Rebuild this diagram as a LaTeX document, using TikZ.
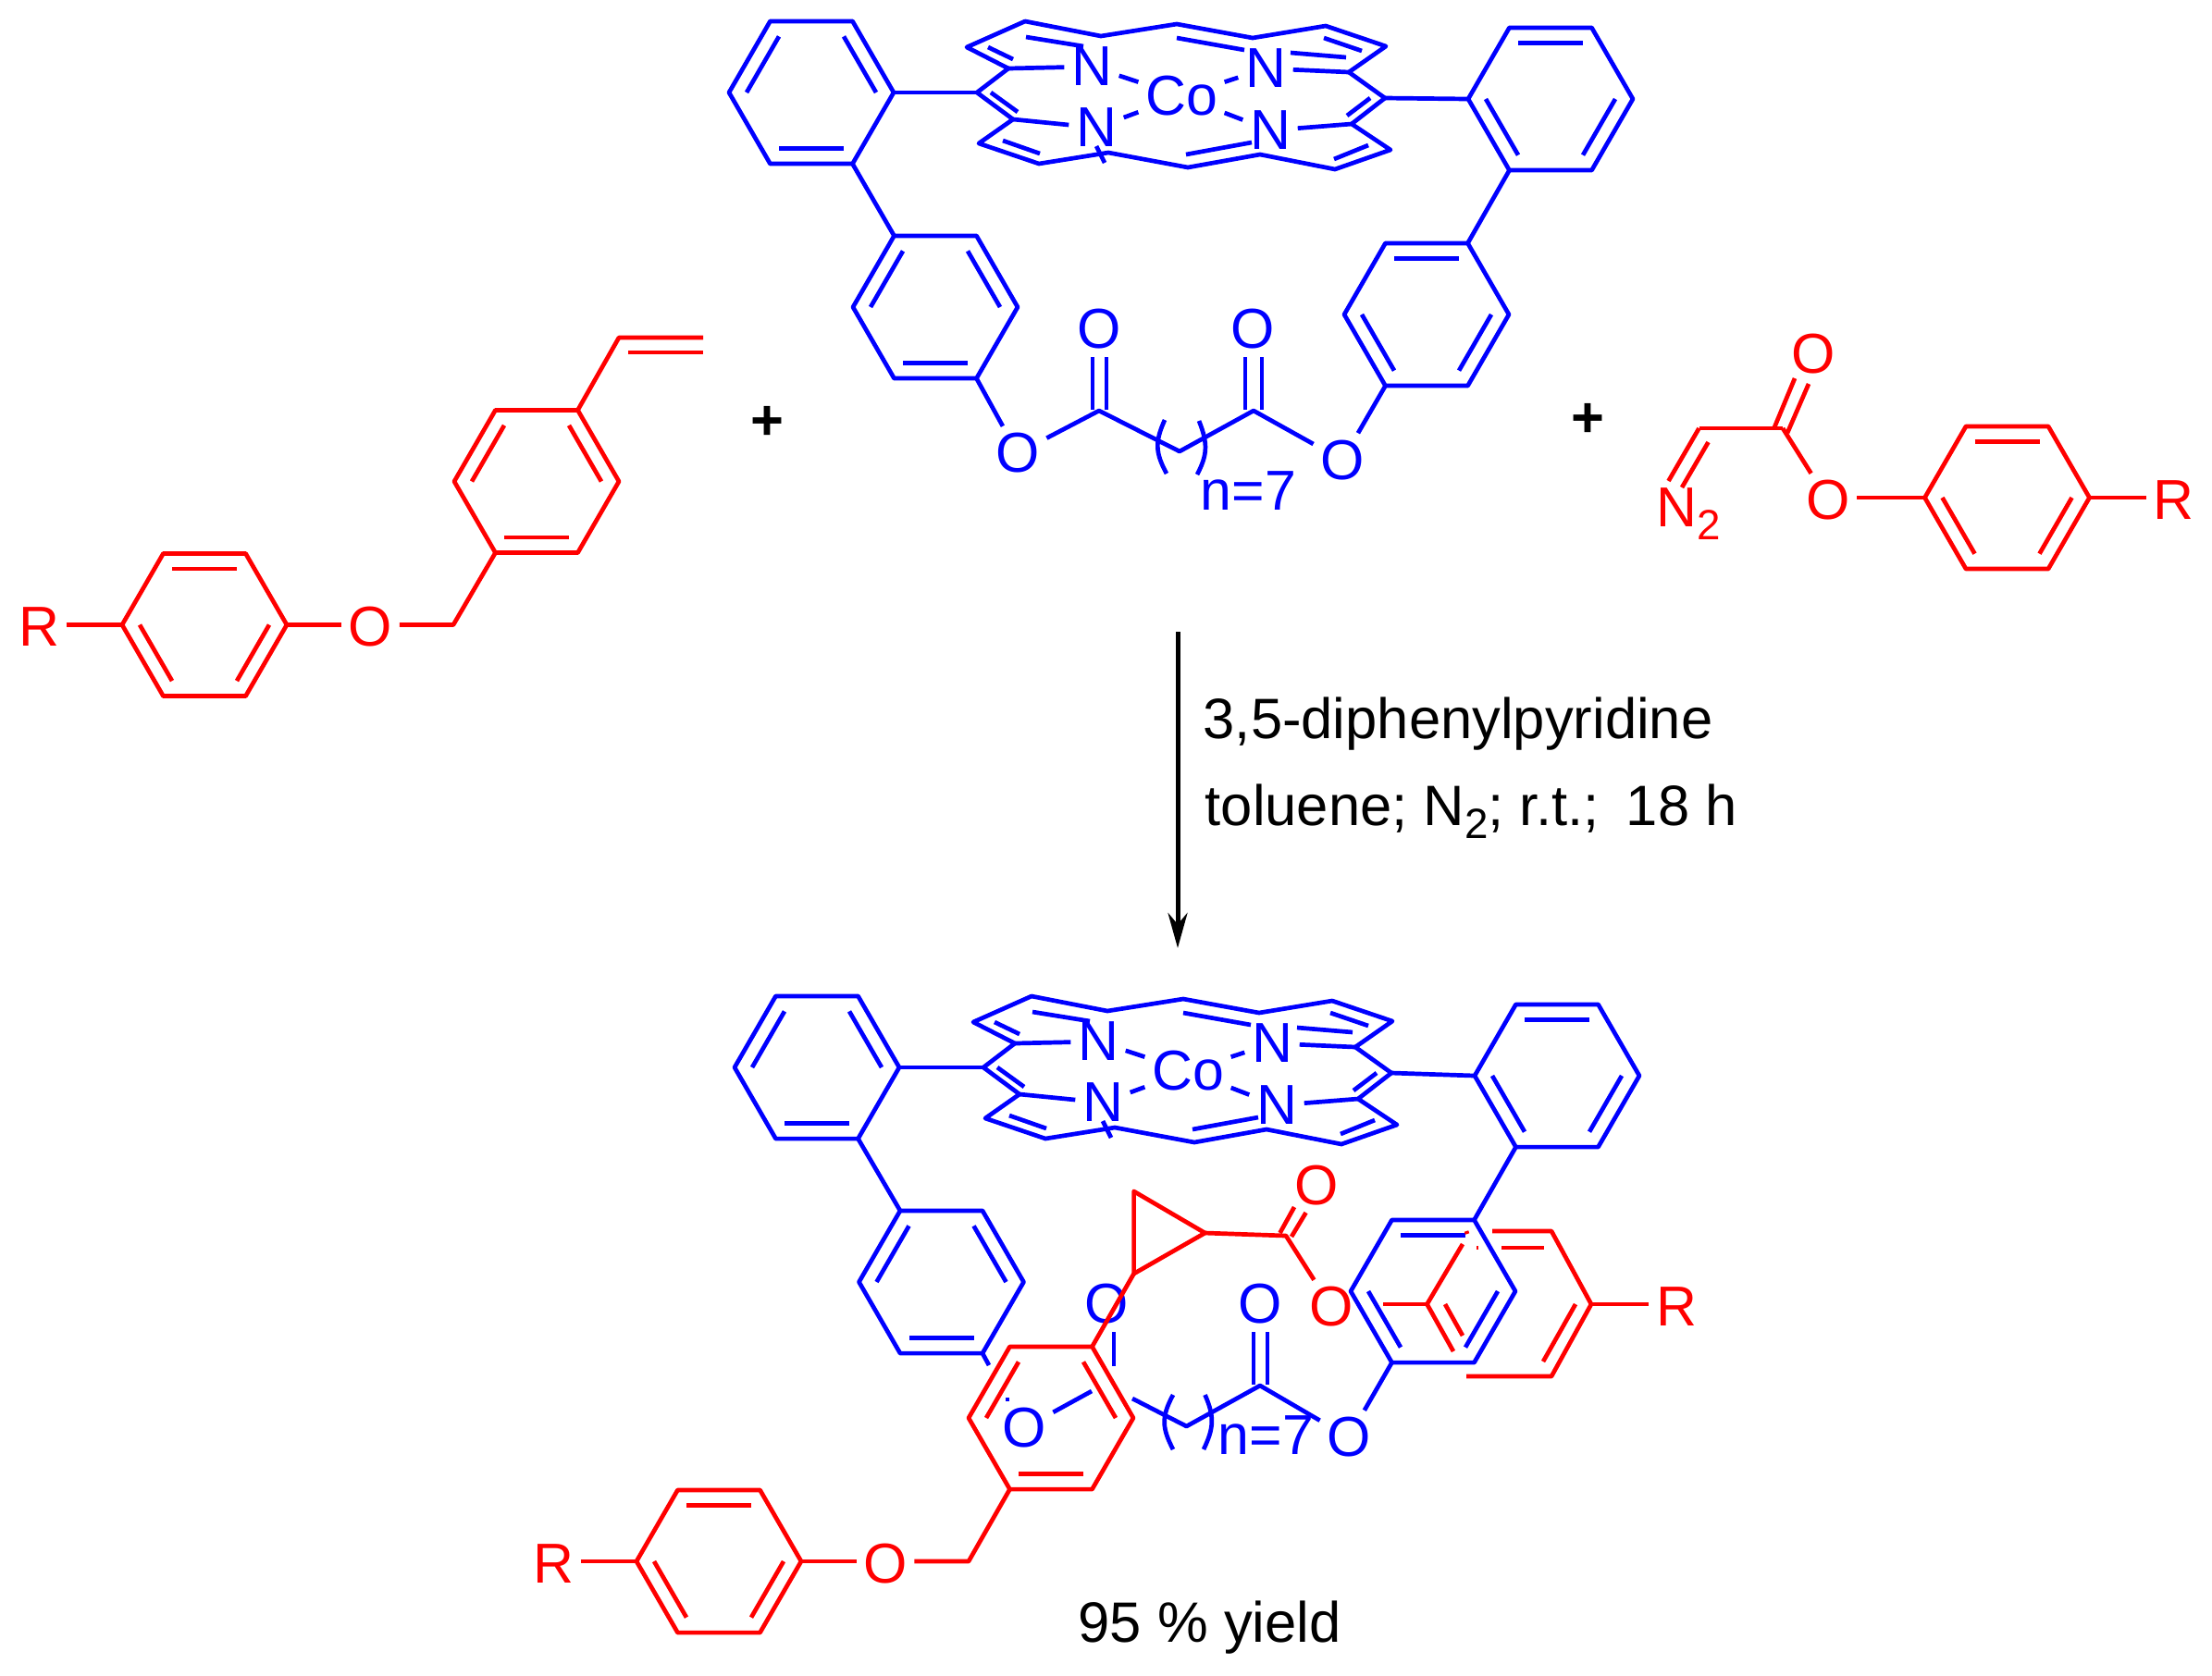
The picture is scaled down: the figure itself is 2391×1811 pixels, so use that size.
\documentclass[tikz,border=0pt]{standalone}
\usepackage{fontspec}
\setmainfont{Liberation Sans}
\usetikzlibrary{arrows.meta}
\newcommand{\subtwo}{\raisebox{-4pt}{\fontsize{13}{13}\selectfont 2}}
\newcommand{\benzene}[4]{%
  \begin{scope}[shift={(#2,#3)}]
    \foreach \ang in {0,60,...,300} {\coordinate (#1-\ang) at (\ang:89);}
    \draw[bond] (#1-0) -- (#1-60) -- (#1-120) -- (#1-180) -- (#1-240) -- (#1-300) -- cycle;
    \foreach \ang in {#4} {\draw[bond] (\ang:70) -- (\ang+60:70);}
  \end{scope}}
\newcommand{\porphyrin}{%
  \coordinate (mesoL) at (1056,100);
  \coordinate (mesoR) at (1497,106);
  \coordinate (ca1) at (1090,74);
  \coordinate (ca2) at (1458,78);
  \coordinate (ca3) at (1095,129);
  \coordinate (ca4) at (1461,134);
  \draw[bond] (mesoL) -- (ca1) -- (1045,51) -- (1108,23) -- (1190,39) -- (1272,26) -- (1354,41) -- (1433,28) -- (1498,50) -- (ca2) -- (mesoR) -- (ca4) -- (1503,162) -- (1443,183) -- (1362,167) -- (1284,181) -- (1198,165) -- (1123,177) -- (1058,155) -- (ca3) -- cycle;
  \draw[bond] (1068,51) -- (1095,64);
  \draw[bond] (1109,40) -- (1171,50);
  \draw[bond] (1272,41) -- (1345,54);
  \draw[bond] (1431,41) -- (1472,55);
  \draw[bond] (1395,57) -- (1455,62);
  \draw[bond] (1071,100) -- (1100,121);
  \draw[bond] (1084,152) -- (1124,166);
  \draw[bond] (1282,167) -- (1353,154);
  \draw[bond] (1456,125) -- (1481,106);
  \draw[bond] (1442,172) -- (1479,157);
  \draw[bond] (1185,158) -- (1194,176);
  \node[atom] (N1) at (1180,72) {N};
  \node[atom] (N2) at (1368,74) {N};
  \node[atom] (N3) at (1185,138) {N};
  \node[atom] (N4) at (1373,141) {N};
  \node[atom] (Co) at (1277,104) {Co};
  \draw[bond] (ca1) -- (N1);
  \draw[bond] (ca2) -- (N2);
  \draw[bond] (ca3) -- (N3);
  \draw[bond] (ca4) -- (N4);
  \draw[bond] (N1) -- (Co);
  \draw[bond] (N2) -- (Co);
  \draw[bond] (N3) -- (Co);
  \draw[bond] (N4) -- (Co);}
\begin{document}
\begin{tikzpicture}[
    x=0.01cm, y=-0.01cm,
    bond/.style={line width=0.047cm, line join=round},
    atom/.style={inner sep=2pt, font=\fontsize{17.3}{20}\selectfont},
    reagent/.style={anchor=base west, inner sep=0pt, font=\fontsize{17.5}{20}\selectfont},
    plus/.style={inner sep=0pt, font=\fontsize{17.5}{20}\selectfont\bfseries}
]
\useasboundingbox (0,0) rectangle (2391,1811);

\begin{scope}[red]
\benzene{sa}{221}{675.5}{240,120,0}
\benzene{sb}{580}{520.5}{180,300,60}
\node[atom] (sR) at (42,678) {R};
\node[atom] (sO) at (400.5,678) {O};
\coordinate (sCH) at (490,675.5);
\coordinate (sVi) at (669,365);
\draw[bond] (sR.east |- sa-180) -- (sa-180);
\draw[bond] (sa-0) -- (sO.west |- sa-0);
\draw[bond] (sO.east |- sCH) -- (sCH) -- (sb-120);
\draw[bond] (sb-300) -- (sVi) -- (760,365);
\draw[bond] (679,381) -- (760,381);

\benzene{da}{2169.5}{538}{240,120,0}
\coordinate (dC) at (1836.5,463);
\coordinate (dE) at (1927,463);
\node[atom] (dO) at (1960,383) {O};
\node[atom] (dOe) at (1976,541) {O};
\node[atom] (dR) at (2349.5,541) {R};
\node[atom, anchor=base west, inner sep=0pt] (dN) at (1790,569) {N\subtwo};
\draw[bond] (dC) -- (dE);
\draw[bond] (dC) -- (1803.5,520);
\draw[bond] (1846.5,478) -- (1818,527);
\draw[bond] (1918,462) -- (1940,409);
\draw[bond] (1932,468) -- (1955,415);
\draw[bond] (dE) -- (dOe);
\draw[bond] (dOe.east |- da-180) -- (da-180);
\draw[bond] (da-0) -- (dR.west |- da-0);
\end{scope}

\begin{scope}[blue]
\porphyrin
\benzene{tl}{877}{100}{180,300,60}
\benzene{ll}{1011}{332}{180,300,60}
\benzene{tr}{1676}{107}{240,0,120}
\benzene{lr}{1542}{340}{240,0,120}
\draw[bond] (tl-0) -- (mesoL);
\draw[bond] (mesoR) -- (tr-180);
\draw[bond] (tl-60) -- (ll-240);
\draw[bond] (tr-120) -- (lr-300);
\coordinate (cA) at (1188,444);
\coordinate (cB) at (1355,444);
\coordinate (cM) at (1275,488);
\node[atom] (oA) at (1100,490) {O};
\node[atom] (oB) at (1451,497.5) {O};
\node[atom] (oC) at (1188,356) {O};
\node[atom] (oD) at (1354,356) {O};
\node[atom] (nA) at (1349.5,531) {n=7};
\draw[bond] (ll-60) -- (oA);
\draw[bond] (lr-120) -- (oB);
\draw[bond] (oA) -- (cA) -- (cM) -- (cB) -- (oB);
\draw[bond] (1181,386) -- (1181,443);
\draw[bond] (1196,386) -- (1196,443);
\draw[bond] (1346,386) -- (1346,443);
\draw[bond] (1364,386) -- (1364,443);
\draw[bond] (1259,454) .. controls (1248,478) and (1249,490) .. (1261,512);
\draw[bond] (1296,455) .. controls (1306,480) and (1305,492) .. (1294,513);
\end{scope}

\node[plus] (plusA) at (829,457) {+};
\node[plus] (plusB) at (1716,454) {+};

\coordinate (arrowtop) at (1273,683);
\coordinate (arrowtip) at (1273,1025);
\draw[-{Stealth[length=0.38cm,width=0.21cm]}, line width=0.05cm] (arrowtop) -- (arrowtip);
\node[reagent] (cond1) at (1300,798) {3,5-diphenylpyridine};
\node[reagent] (cond2) at (1302,892) {toluene; N\subtwo; r.t.;\hspace{0.48em}18 h};

\begin{scope}[blue]
\begin{scope}[shift={(7,1054)}, name prefix=b-]
\porphyrin
\end{scope}
\benzene{btl}{883}{1154}{180,300,60}
\benzene{bll}{1017.5}{1386}{180,300,60}
\benzene{btr}{1683}{1163}{240,0,120}
\benzene{blr}{1549}{1396}{240,0,120}
\draw[bond] (btl-0) -- (b-mesoL);
\draw[bond] (b-mesoR) -- (btr-180);
\draw[bond] (btl-60) -- (bll-240);
\draw[bond] (btr-120) -- (blr-300);
\coordinate (bcB) at (1362,1498);
\coordinate (bcM) at (1282.5,1542);
\node[atom] (boA) at (1107,1544) {O};
\node[atom] (boB) at (1458,1554) {O};
\node[atom] (boC) at (1196,1410) {O};
\node[atom] (boD) at (1362,1410) {O};
\node[atom] (bnA) at (1368.5,1552) {n=7};
\draw[bond] (bll-60) -- (1069,1476);
\draw[bond] (blr-120) -- (boB);
\draw[bond] (1180,1504) -- (boA);
\draw[bond] (1224,1512) -- (bcM) -- (bcB) -- (boB);
\draw[bond] (1204,1440) -- (1204,1477);
\draw[bond] (1355,1440) -- (1355,1497);
\draw[bond] (1370,1440) -- (1370,1497);
\draw[bond] (1089,1511) -- (1089,1515);
\draw[bond] (1268,1508) .. controls (1255,1532) and (1256,1544) .. (1268,1567);
\draw[bond] (1302.5,1508) .. controls (1313,1532) and (1312,1544) .. (1301,1567);
\end{scope}

\begin{scope}[red]
\benzene{pa}{777}{1688}{240,120,0}
\benzene{pb}{1136}{1533}{180,300,60}
\node[atom] (pR) at (598,1691) {R};
\node[atom] (pO) at (957,1691) {O};
\coordinate (pCH) at (1047,1688);
\coordinate (cp1) at (1225.6,1288);
\coordinate (cp2) at (1302.5,1333);
\coordinate (cp3) at (1225.6,1377);
\coordinate (pE) at (1390,1336);
\coordinate (pV) at (1720,1410);
\node[atom] (pOc) at (1423.6,1282) {O};
\node[atom] (pOe) at (1439,1413) {O};
\node[atom] (pRb) at (1812,1413) {R};
\draw[bond] (pR.east |- pa-180) -- (pa-180);
\draw[bond] (pa-0) -- (pO.west |- pa-0);
\draw[bond] (pO.east |- pCH) -- (pCH) -- (pb-120);
\draw[bond] (pb-300) -- (cp3);
\draw[bond] (cp1) -- (cp2) -- (cp3) -- cycle;
\draw[bond] (cp2) -- (pE) -- (pOe);
\draw[bond] (1383.5,1333) -- (1399,1305);
\draw[bond] (1396,1337) -- (1411.6,1311);
\draw[bond] (1613,1331) -- (1677,1331) -- (pV) -- (1677,1488) -- (1585,1488);
\draw[bond] (1571,1461) -- (1542.5,1410) -- (1581,1345);
\draw[bond] (1623,1349) -- (1669,1349);
\draw[bond] (1703,1410) -- (1668,1472);
\draw[bond] (1562,1410) -- (1581,1444);
\draw[bond] (1495,1410) -- (1542.5,1410);
\draw[bond] (pV) -- (pRb.west |- pV);
\draw[bond] (1596,1349) -- (1598,1349);
\draw[bond] (1585,1331) -- (1586,1334);
\end{scope}

\node[reagent] (yield) at (1165,1775) {95 \% yield};

\end{tikzpicture}
\end{document}
